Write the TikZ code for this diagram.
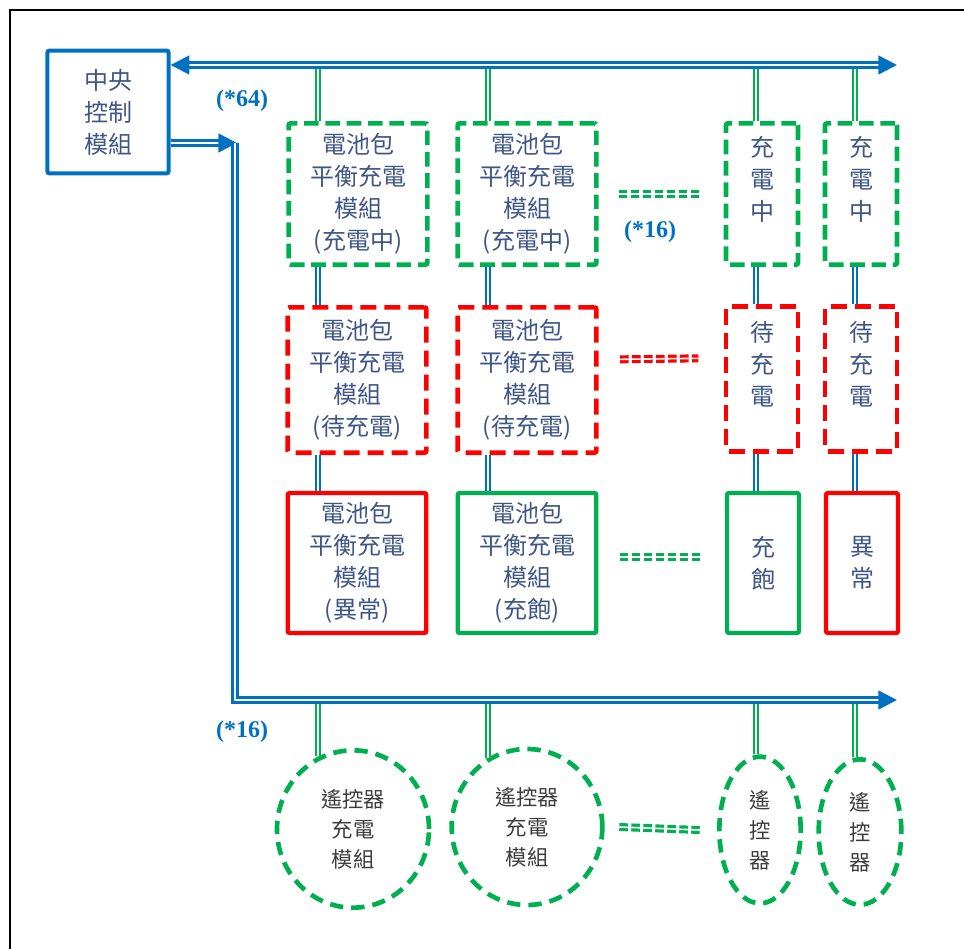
\documentclass[tikz,border=0pt]{standalone}
\usepackage{fontspec}
\setmainfont{Liberation Serif}
\newfontfamily\cjk{Noto Sans CJK TC}
\usetikzlibrary{arrows.meta,shapes.geometric,positioning}
\definecolor{bmsBlue}{RGB}{0,112,192}
\definecolor{bmsGreen}{RGB}{0,176,80}
\definecolor{bmsRed}{RGB}{255,0,0}
\definecolor{bmsText}{RGB}{62,86,135}
\definecolor{bmsGray}{RGB}{60,60,60}
\begin{document}
\begin{tikzpicture}[x=0.75pt,y=-0.75pt,
    bmsBus/.style={draw=bmsBlue,double=white,line width=2pt,double distance=1.6pt},
    bmsTip/.style={-{Triangle[length=14pt,width=14pt]}},
    bmsLinkB/.style={draw=bmsBlue,double=white,line width=1.8pt,double distance=1.4pt},
    bmsLinkG/.style={draw=bmsGreen,double=white,line width=1.8pt,double distance=1.4pt},
    bmsDots/.style={double=white,line width=2.4pt,double distance=1.2pt,dash pattern=on 6.5pt off 2.5pt},
    bmsBox/.style={rectangle,rounded corners=1.5pt,inner sep=2pt,align=center,text=bmsText,
        font=\cjk\fontsize{18pt}{24pt}\selectfont},
    bmsWide/.style={bmsBox,minimum width=104pt},
    bmsNarrow/.style={bmsBox,minimum width=54pt},
    bmsDashG/.style={draw=bmsGreen,line width=3.5pt,dash pattern=on 11pt off 5pt},
    bmsDashR/.style={draw=bmsRed,line width=3.5pt,dash pattern=on 12pt off 6pt},
    bmsSolidG/.style={draw=bmsGreen,line width=3.2pt},
    bmsSolidR/.style={draw=bmsRed,line width=3.2pt},
    bmsRemote/.style={ellipse,draw=bmsGreen,line width=3.5pt,dash pattern=on 10pt off 6pt,
        inner sep=0pt,align=center,text=bmsGray,font=\cjk\fontsize{16pt}{22.5pt}\selectfont},
    bmsCount/.style={text=bmsBlue,font=\bfseries\fontsize{18pt}{20pt}\selectfont},
]
\useasboundingbox (0,0) rectangle (964,949);
\draw[line width=1.5pt] (10,949) -- (10,10) -- (964,10);
% Central control
\node[bmsBox,draw=bmsBlue,line width=3pt,minimum width=91pt,minimum height=92pt] (ctrl) at (108,112) {中央\\控制\\模組};
% Bus ends and link columns
\coordinate (topend) at (897,65);
\coordinate (bend) at (235,143);
\coordinate (bendb) at (235,700);
\coordinate (botend) at (897,700);
\coordinate (k1) at (318,0);
\coordinate (k2) at (488,0);
\coordinate (k3) at (756,0);
\coordinate (k4) at (855,0);
% Row 1: charging
\node[bmsWide,bmsDashG,minimum height=106pt] (chg1) at (358,194) {電池包\\平衡充電\\模組\\(充電中)};
\node[bmsWide,bmsDashG,minimum height=106pt] (chg2) at (527,194) {電池包\\平衡充電\\模組\\(充電中)};
\node[bmsNarrow,bmsDashG,minimum height=106pt] (chg3) at (762,194) {充\\電\\中\\~};
\node[bmsNarrow,bmsDashG,minimum height=106pt] (chg4) at (861,194) {充\\電\\中\\~};
% Row 2: waiting
\node[bmsWide,bmsDashR,minimum height=109pt] (wait1) at (357,380) {電池包\\平衡充電\\模組\\(待充電)};
\node[bmsWide,bmsDashR,minimum height=109pt] (wait2) at (527,380) {電池包\\平衡充電\\模組\\(待充電)};
\node[bmsNarrow,bmsDashR,minimum height=109pt] (wait3) at (762,379) {待\\充\\電\\~};
\node[bmsNarrow,bmsDashR,minimum height=109pt] (wait4) at (861,379) {待\\充\\電\\~};
% Row 3: full or fault
\node[bmsWide,bmsSolidR,minimum height=105pt] (end1) at (357,563) {電池包\\平衡充電\\模組\\(異常)};
\node[bmsWide,bmsSolidG,minimum height=105pt] (end2) at (527,563) {電池包\\平衡充電\\模組\\(充飽)};
\node[bmsNarrow,bmsSolidG,minimum height=105pt] (end3) at (763,563) {充\\飽};
\node[bmsNarrow,bmsSolidR,minimum height=105pt] (end4) at (862,563) {異\\常};
% Remote chargers
\node[bmsRemote,minimum width=114pt,minimum height=118pt] (rc1) at (353,829) {遙控器\\充電\\模組};
\node[bmsRemote,minimum width=113pt,minimum height=117pt] (rc2) at (527,827) {遙控器\\充電\\模組};
\node[bmsRemote,minimum width=61pt,minimum height=110pt] (rc3) at (760,830) {遙\\控\\器};
\node[bmsRemote,minimum width=62pt,minimum height=109pt] (rc4) at (860,832) {遙\\控\\器};
% Links to the top bus
\foreach \k/\b in {k1/chg1,k2/chg2,k3/chg3,k4/chg4}
    \draw[bmsLinkG] (\k |- topend) -- (\k |- \b.north);
% Links between rows
\foreach \k/\a/\b in {k1/chg1/wait1,k2/chg2/wait2,k3/chg3/wait3,k4/chg4/wait4,
                      k1/wait1/end1,k2/wait2/end2,k3/wait3/end3,k4/wait4/end4}
    \draw[bmsLinkB] (\k |- \a.south) -- (\k |- \b.north);
% Links to the bottom bus
\draw[bmsLinkG] (k1 |- botend) -- (k1 |- rc1.115);
\draw[bmsLinkG] (k2 |- botend) -- (k2 |- rc2.120);
\draw[bmsLinkG] (k3 |- botend) -- (k3 |- rc3.north);
\draw[bmsLinkG] (k4 |- botend) -- (k4 |- rc4.north);
% Buses
\draw[bmsBus,{Triangle[length=14pt,width=14pt]}-{Triangle[length=14pt,width=14pt]}] (ctrl.east |- topend) -- (topend);
\draw[bmsBus,bmsTip] (ctrl.east |- bend) -- ([xshift=1.5pt]bend);
\draw[bmsBus,bmsTip] (bend) -- (bendb) -- (botend);
% Dotted continuations
\draw[bmsDots,draw=bmsGreen] ([xshift=15pt]chg2.east) -- ([xshift=-18pt]chg3.west);
\draw[bmsDots,draw=bmsRed] ([shift={(16pt,15.5pt)}]wait2.east) -- ([shift={(-19pt,15.5pt)}]wait3.west);
\draw[bmsDots,draw=bmsGreen] ([shift={(16pt,4.5pt)}]end2.east) -- ([shift={(-19pt,4.5pt)}]end3.west);
\draw[bmsDots,draw=bmsGreen] ([xshift=11pt]rc2.east) -- ([xshift=-13pt]rc3.west);
% Counts
\node[bmsCount] (cnt64) at (242,101) {(*64)};
\node[bmsCount] (cnt16a) at (650,232) {(*16)};
\node[bmsCount] (cnt16b) at (242,732) {(*16)};
\end{tikzpicture}
\end{document}
